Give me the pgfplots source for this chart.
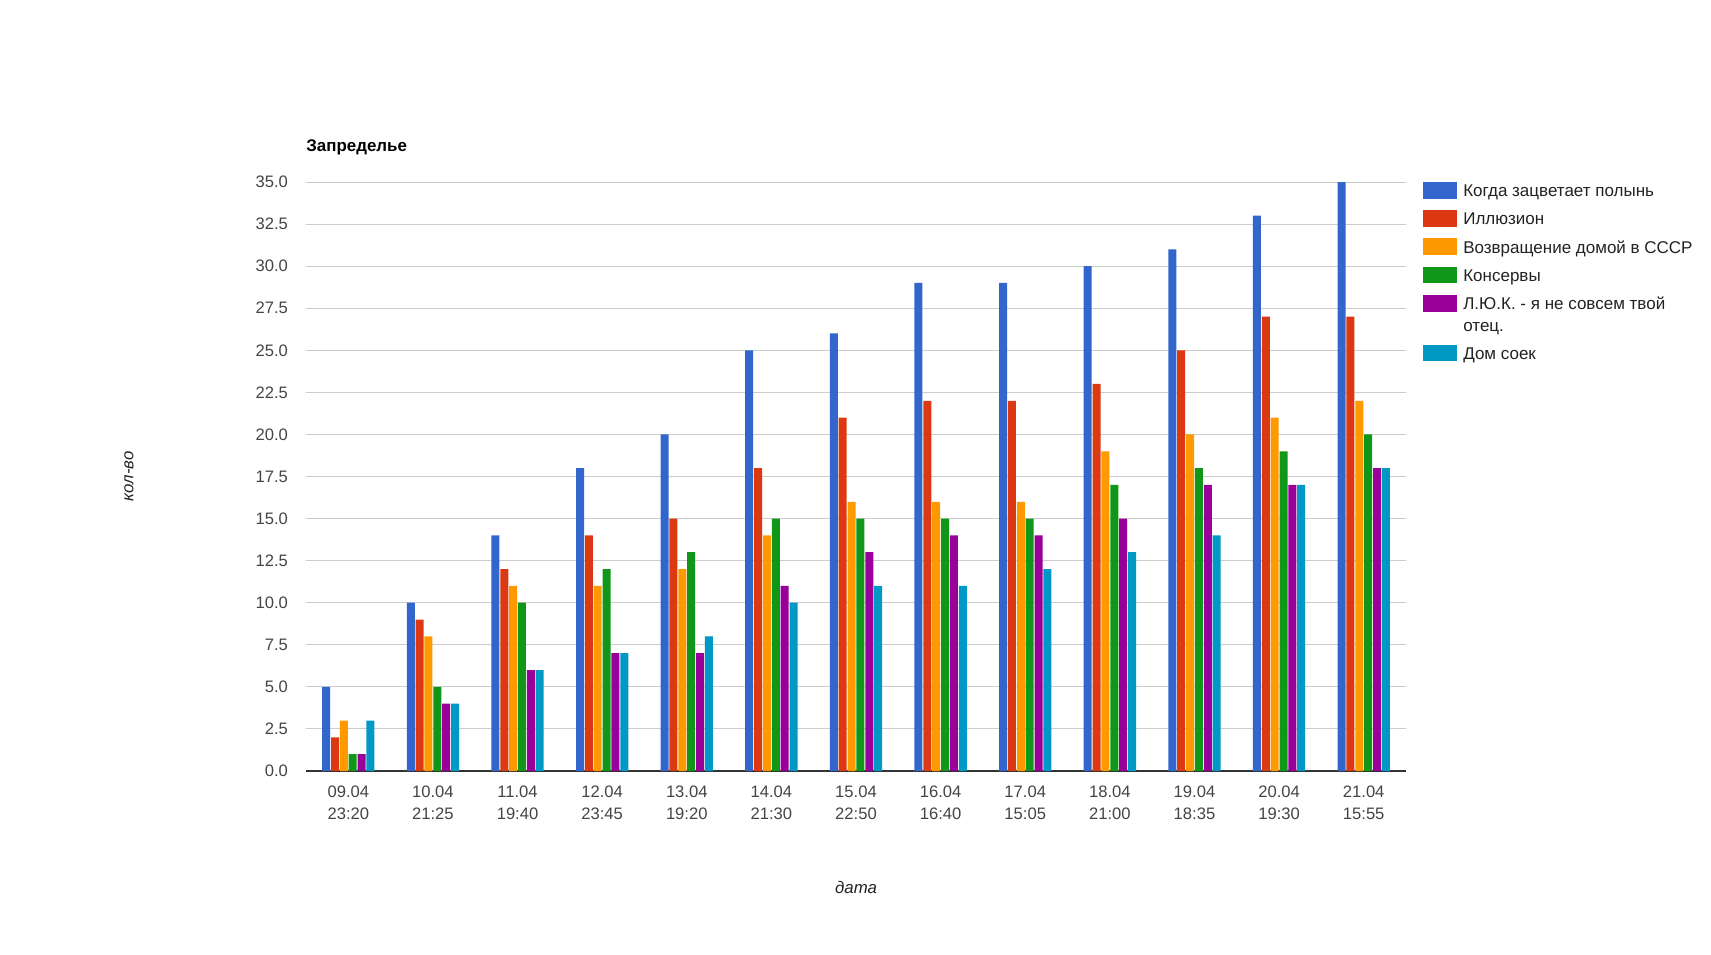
\documentclass[border=0pt]{standalone}
\usepackage{fontspec}
\setmainfont{Liberation Sans}
\usepackage{pgfplots}
\pgfplotsset{compat=1.18}
\definecolor{c1}{HTML}{3366CC}
\definecolor{c2}{HTML}{DC3912}
\definecolor{c3}{HTML}{FF9900}
\definecolor{c4}{HTML}{109618}
\definecolor{c5}{HTML}{990099}
\definecolor{c6}{HTML}{0099C6}
\definecolor{tickc}{HTML}{444444}
\definecolor{gridc}{HTML}{CCCCCC}
\definecolor{axc}{HTML}{333333}
\definecolor{labc}{HTML}{222222}
\newcommand\lstrut{\rule[-6.75pt]{0pt}{14.1pt}}
\begin{document}
\begin{tikzpicture}
\useasboundingbox (0,0) rectangle (855.5pt,477pt);
\begin{axis}[
  at={(153pt,91.5pt)}, anchor=south west,
  scale only axis, width=550pt, height=294.5pt,
  ybar=0.43pt, bar width=4pt,
  xmin=-0.5, xmax=12.5, ymin=0, ymax=35,
  ytick distance=2.5,
  xtick={0,1,2,3,4,5,6,7,8,9,10,11,12},
  xticklabels={{09.04\\23:20},{10.04\\21:25},{11.04\\19:40},{12.04\\23:45},{13.04\\19:20},{14.04\\21:30},{15.04\\22:50},{16.04\\16:40},{17.04\\15:05},{18.04\\21:00},{19.04\\18:35},{20.04\\19:30},{21.04\\15:55}},
  major tick length=0pt,
  axis x line*=bottom, axis y line*=left,
  x axis line style={draw=axc, line width=1pt},
  y axis line style={draw=none},
  ymajorgrids, major grid style={draw=gridc, line width=0.5pt},
  tick label style={color=tickc, font=\fontsize{8.3}{10.85}\selectfont},
  xticklabel style={align=center, inner sep=0pt, anchor=north, yshift=-7.5pt},
  yticklabel style={anchor=east, inner sep=0pt, xshift=-8.85pt,
    /pgf/number format/fixed, /pgf/number format/fixed zerofill,
    /pgf/number format/precision=1, /pgf/number format/assume math mode=true},
  title={Запределье},
  title style={at={(axis description cs:0,1.0514)}, anchor=base west, inner sep=0pt, yshift=-6pt,
    font=\fontsize{8.45}{10}\selectfont\bfseries, color=black},
  xlabel={дата},
  xlabel style={at={(axis description cs:0.5,-0.2076)}, anchor=base, inner sep=0pt,
    font=\fontsize{8.4}{10}\selectfont\itshape, color=labc},
  ylabel={кол-во},
  ylabel style={at={(axis description cs:-0.157,0.5)}, anchor=base, rotate=0, inner sep=0pt,
    font=\fontsize{8.4}{10}\selectfont\itshape, color=labc},
  legend style={at={(axis description cs:1.01545,1)}, anchor=north west, draw=none, fill=none,
    inner sep=0pt, outer sep=0pt, column sep=3.15pt, row sep=0pt,
    nodes={inner sep=0pt, outer sep=0pt, text depth=, text height=},
    cells={anchor=base west},
    font=\fontsize{8.5}{10.85}\selectfont, text=labc},
  legend image code/.code={\fill[#1] (0pt,-1pt) rectangle (17pt,7.35pt);},
]
\addplot[draw=none, fill=c1] coordinates {(0,5) (1,10) (2,14) (3,18) (4,20) (5,25) (6,26) (7,29) (8,29) (9,30) (10,31) (11,33) (12,35)};
\addplot[draw=none, fill=c2] coordinates {(0,2) (1,9) (2,12) (3,14) (4,15) (5,18) (6,21) (7,22) (8,22) (9,23) (10,25) (11,27) (12,27)};
\addplot[draw=none, fill=c3] coordinates {(0,3) (1,8) (2,11) (3,11) (4,12) (5,14) (6,16) (7,16) (8,16) (9,19) (10,20) (11,21) (12,22)};
\addplot[draw=none, fill=c4] coordinates {(0,1) (1,5) (2,10) (3,12) (4,13) (5,15) (6,15) (7,15) (8,15) (9,17) (10,18) (11,19) (12,20)};
\addplot[draw=none, fill=c5] coordinates {(0,1) (1,4) (2,6) (3,7) (4,7) (5,11) (6,13) (7,14) (8,14) (9,15) (10,17) (11,17) (12,18)};
\addplot[draw=none, fill=c6] coordinates {(0,3) (1,4) (2,6) (3,7) (4,8) (5,10) (6,11) (7,11) (8,12) (9,13) (10,14) (11,17) (12,18)};
\legend{{\lstrut Когда зацветает полынь},{\lstrut Иллюзион},{\lstrut Возвращение домой в СССР},{\lstrut Консервы},{\vtop{\baselineskip=10.85pt\hbox{\rule{0pt}{7.35pt}Л.Ю.К. - я не совсем твой}\hbox{отец.\rule[-6.75pt]{0pt}{6.75pt}}}},{\lstrut Дом соек}}
\end{axis}
\end{tikzpicture}
\end{document}
